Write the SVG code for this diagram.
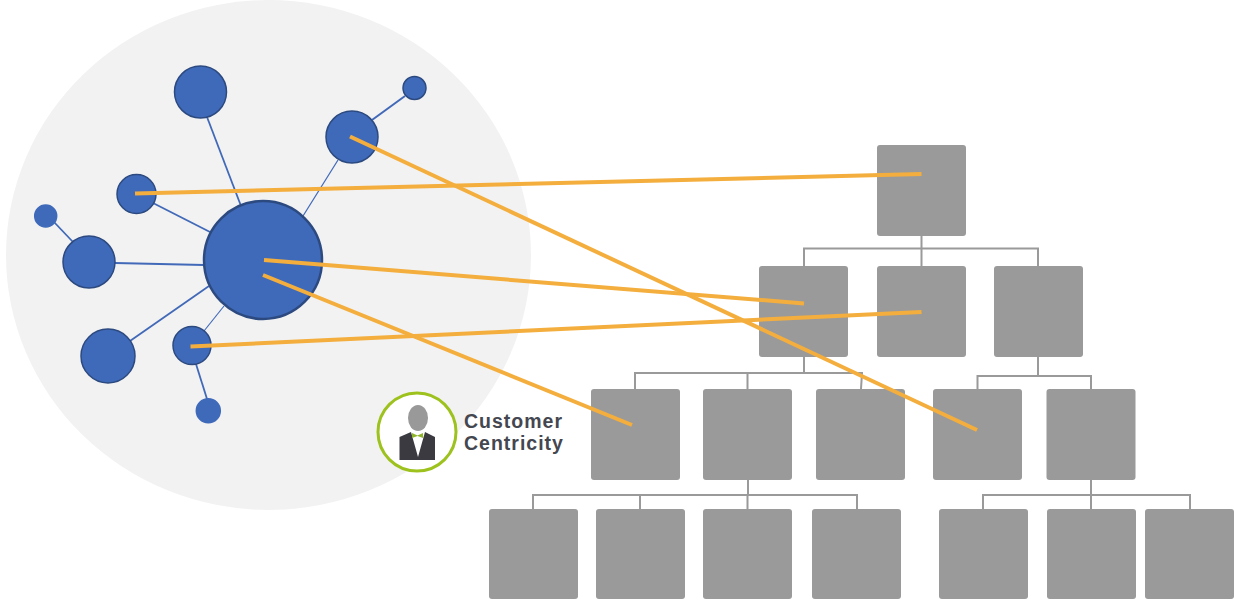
<svg xmlns="http://www.w3.org/2000/svg" width="1234" height="601" viewBox="0 0 1234 601">
<style>
.box{fill:#9a9a9a}
.tree{fill:none;stroke:#9a9a9a;stroke-width:2}
.link{stroke:#4169b8;fill:none}
.dot{fill:#3f6aba;stroke:#2c4a80;stroke-width:1.5}
.or{stroke:#f4ae3d;stroke-width:4;fill:none}
.lbl{font-family:"Liberation Sans",Arial,sans-serif;font-weight:700;font-size:19.5px;letter-spacing:1px;fill:#44474f}
</style>
<rect width="1234" height="601" fill="#fff"/>
<ellipse id="cloud" cx="268.500" cy="255" rx="262.500" ry="255" fill="#f2f2f2"/>
<g id="network-links">
<path class="link" stroke-width="1.800" d="M207 117L241 206"/>
<path class="link" stroke-width="2" d="M372 120L405 96"/>
<path class="link" stroke-width="1.200" d="M338 160L303 216"/>
<path class="link" stroke-width="1.800" d="M153 203L210 232"/>
<path class="link" stroke-width="1.800" d="M54 222L73 242"/>
<path class="link" stroke-width="1.800" d="M115 263L204 265"/>
<path class="link" stroke-width="1.800" d="M130 341L209 286"/>
<path class="link" stroke-width="1.200" d="M204 331L224 306"/>
<path class="link" stroke-width="1.800" d="M196 364L207 399"/>
</g>
<g id="net-hub"><circle class="dot" style="stroke-width:2.500" cx="263" cy="260" r="59"/></g>
<g id="net-top"><circle class="dot" cx="200.500" cy="92" r="26"/></g>
<g id="net-topright"><circle class="dot" cx="352" cy="137" r="26"/></g>
<g id="net-farright"><circle class="dot" cx="414.500" cy="88" r="11.500"/></g>
<g id="net-upperleft"><circle class="dot" cx="136.500" cy="194" r="19.500"/></g>
<g id="net-farleft"><circle class="dot" style="stroke:#3f6aba" cx="45.700" cy="216" r="11"/></g>
<g id="net-left"><circle class="dot" cx="89" cy="262" r="26"/></g>
<g id="net-lowerleft"><circle class="dot" cx="108" cy="356" r="27"/></g>
<g id="net-lowersmall"><circle class="dot" cx="192" cy="345.500" r="19"/></g>
<g id="net-bottom"><circle class="dot" style="stroke:#3f6aba" cx="208.300" cy="410.700" r="12"/></g>
<g id="tree-connectors">
<path class="tree" d="M921.500 236V266M804 266V248.500H1038V266"/>
<path class="tree" d="M804 357V373M635 389V373H862L861 389M747.500 373V389"/>
<path class="tree" d="M1038 357V376M977.500 389V376H1091V389"/>
<path class="tree" d="M748 480V495M533 509V495H857V509M640 495V509M747.500 495V509"/>
<path class="tree" d="M1091 480V495M983 509V495H1190V509M1091 495V509"/>
</g>
<g id="box-1-1"><rect class="box" x="877" y="145" width="89" height="91" rx="3"/></g>
<g id="box-2-1"><rect class="box" x="759" y="266" width="89" height="91" rx="3"/></g>
<g id="box-2-2"><rect class="box" x="877" y="266" width="89" height="91" rx="3"/></g>
<g id="box-2-3"><rect class="box" x="994" y="266" width="89" height="91" rx="3"/></g>
<g id="box-3-1"><rect class="box" x="591" y="389" width="89" height="91" rx="3"/></g>
<g id="box-3-2"><rect class="box" x="703" y="389" width="89" height="91" rx="3"/></g>
<g id="box-3-3"><rect class="box" x="816" y="389" width="89" height="91" rx="3"/></g>
<g id="box-3-4"><rect class="box" x="933" y="389" width="89" height="91" rx="3"/></g>
<g id="box-3-5"><rect class="box" x="1046.500" y="389" width="89" height="91" rx="3"/></g>
<g id="box-4-1"><rect class="box" x="489" y="509" width="89" height="90" rx="3"/></g>
<g id="box-4-2"><rect class="box" x="596" y="509" width="89" height="90" rx="3"/></g>
<g id="box-4-3"><rect class="box" x="703" y="509" width="89" height="90" rx="3"/></g>
<g id="box-4-4"><rect class="box" x="812" y="509" width="89" height="90" rx="3"/></g>
<g id="box-4-5"><rect class="box" x="939" y="509" width="89" height="90" rx="3"/></g>
<g id="box-4-6"><rect class="box" x="1047" y="509" width="89" height="90" rx="3"/></g>
<g id="box-4-7"><rect class="box" x="1145" y="509" width="89" height="90" rx="3"/></g>
<g id="mapping-lines">
<path class="or" d="M135 193.500L921.500 174"/>
<path class="or" d="M350 136.500L977 430"/>
<path class="or" d="M264 260L804 303.500"/>
<path class="or" d="M263 275L632 425"/>
<path class="or" d="M190.500 346.500L921.500 312"/>
</g>
<g id="customer-centricity">
<circle cx="417" cy="432" r="39" fill="#fff" stroke="#9dc21e" stroke-width="3"/>
<ellipse cx="418" cy="418" rx="10" ry="13" fill="#999"/>
<path d="M411 432L399.500 437V460H435V437L425 432L418 457Z" fill="#3a3a40"/>
<path d="M412 433L417.500 435.500L423 433V438L417.500 436L412 438Z" fill="#8fb52a"/>
<text class="lbl" x="464" y="427.500">Customer</text>
<text class="lbl" x="464" y="449.500">Centricity</text>
</g>
</svg>
